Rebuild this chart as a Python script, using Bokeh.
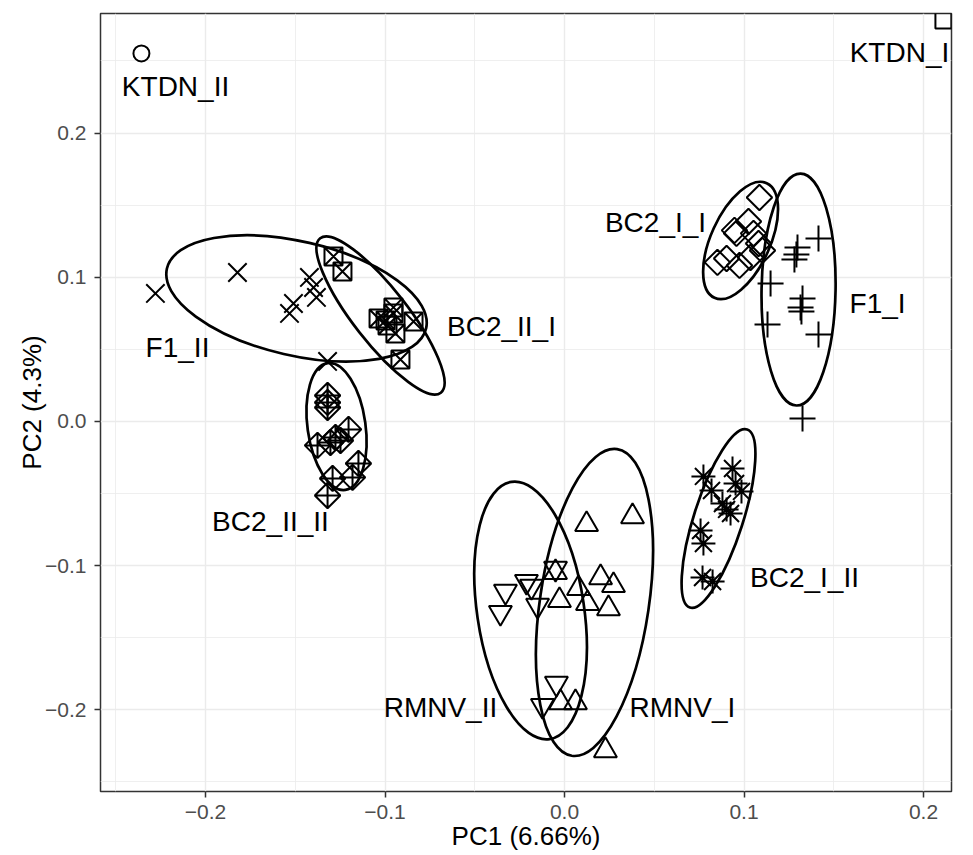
from bokeh.plotting import figure
from bokeh.models import Range1d, FixedTicker, CustomJSTickFormatter
from bokeh.core.properties import value
from bokeh.embed import file_html
from bokeh.resources import INLINE

# ---------------- data ----------------
x_ticks = [-0.2, -0.1, 0.0, 0.1, 0.2]
y_ticks = [-0.2, -0.1, 0.0, 0.1, 0.2]
x_minor = [-0.25, -0.15, -0.05, 0.05, 0.15, 0.25]
y_minor = [-0.25, -0.15, -0.05, 0.05, 0.15, 0.25]

KTDN_II_x = [-0.2357]
KTDN_II_y = [0.2552]
KTDN_I_x = [0.2111]
KTDN_I_y = [0.2781]

F1_II_x = [-0.2279, -0.1822, -0.1421, -0.1398, -0.1382, -0.1510, -0.1532, -0.1320]
F1_II_y = [0.0888, 0.1033, 0.0999, 0.0929, 0.0860, 0.0818, 0.0749, 0.0416]

BC2_II_I_x = [-0.1287, -0.1237, -0.1036, -0.0953, -0.0953, -0.0841, -0.0986, -0.0942, -0.0914, -0.0997]
BC2_II_I_y = [0.1144, 0.1040, 0.0714, 0.0791, 0.0749, 0.0693, 0.0666, 0.0610, 0.0430, 0.0700]

BC2_II_II_x = [-0.1320, -0.1320, -0.1320, -0.1203, -0.1276, -0.1304, -0.1376, -0.1248, -0.1148, -0.1181, -0.1292, -0.1320]
BC2_II_II_y = [0.0180, 0.0132, 0.0097, -0.0055, -0.0111, -0.0146, -0.0166, -0.0132, -0.0291, -0.0388, -0.0395, -0.0513]

BC2_I_I_x = [0.1086, 0.0947, 0.0958, 0.1025, 0.1053, 0.1081, 0.0852, 0.0903, 0.0975, 0.1036, 0.1103]
BC2_I_I_y = [0.1553, 0.1325, 0.1304, 0.1387, 0.1304, 0.1234, 0.1103, 0.1130, 0.1082, 0.1137, 0.1186]

F1_I_x = [0.1415, 0.1298, 0.1292, 0.1281, 0.1148, 0.1326, 0.1315, 0.1320, 0.1131, 0.1415, 0.1326]
F1_I_y = [0.1269, 0.1207, 0.1158, 0.1123, 0.0957, 0.0853, 0.0791, 0.0763, 0.0673, 0.0603, 0.0021]

BC2_I_II_x = [0.0774, 0.0936, 0.0953, 0.0986, 0.0819, 0.0880, 0.0903, 0.0925, 0.0758, 0.0774, 0.0769, 0.0825]
BC2_I_II_y = [-0.0381, -0.0326, -0.0430, -0.0485, -0.0479, -0.0569, -0.0610, -0.0638, -0.0756, -0.0846, -0.1082, -0.1110]

RMNV_I_x = [0.0123, 0.0379, 0.0201, 0.0273, 0.0078, -0.0028, 0.0128, 0.0245, -0.0050, 0.0061, -0.0022, 0.0228]
RMNV_I_y = [-0.0714, -0.0659, -0.1082, -0.1137, -0.1158, -0.1241, -0.1262, -0.1297, -0.1047, -0.1949, -0.1949, -0.2282]

RMNV_II_x = [-0.0329, -0.0357, -0.0212, -0.0184, -0.0150, -0.0050, -0.0045, -0.0123]
RMNV_II_y = [-0.1179, -0.1325, -0.1110, -0.1144, -0.1276, -0.1019, -0.1817, -0.1970]

# confidence ellipses: F1_II, BC2_II_I, BC2_II_II, BC2_I_I, F1_I, BC2_I_II, RMNV_II, RMNV_I
ell_cx = [-0.1493, -0.1025, -0.1270, 0.0981, 0.1304, 0.0858, -0.0189, 0.0167]
ell_cy = [0.0853, 0.0735, -0.0035, 0.1255, 0.0915, -0.0673, -0.1311, -0.1255]
ell_major = [266, 196, 128, 126, 232, 187, 260, 310]
ell_minor = [114, 54, 58, 59, 74, 49, 107, 109]
ell_angle = [-13, -52, -82, 65.5, 89, 72.2, -81.6, 81.6]

label_text = ["KTDN_II", "KTDN_I", "F1_II", "BC2_II_I", "BC2_II_II", "BC2_I_I",
              "F1_I", "BC2_I_II", "RMNV_II", "RMNV_I"]
label_x = [-0.2167, 0.1866, -0.2156, -0.0351, -0.1638, 0.0507, 0.1744, 0.1337, -0.0691, 0.0657]
label_y = [0.2323, 0.2559, 0.0513, 0.0659, -0.0693, 0.1380, 0.0818, -0.1082, -0.1983, -0.1983]

# ---------------- figure ----------------
FONT = "Liberation Sans"
p = figure(width=973, height=855, output_backend="svg", toolbar_location=None,
           x_range=Range1d(-0.2585, 0.2156), y_range=Range1d(-0.2566, 0.2829),
           min_border_left=100, min_border_right=22, min_border_top=13, min_border_bottom=64)
p.background_fill_color = "white"
p.border_fill_color = "white"
p.outline_line_color = "#333333"
p.outline_line_width = 1.5

p.xaxis.ticker = FixedTicker(ticks=x_ticks, minor_ticks=x_minor)
p.yaxis.ticker = FixedTicker(ticks=y_ticks, minor_ticks=y_minor)
fmt = CustomJSTickFormatter(code="return tick.toFixed(1).replace('-', '\\u2212');")
for ax in (p.xaxis, p.yaxis):
    ax.formatter = fmt
    ax.axis_line_color = None
    ax.major_tick_line_color = "#333333"
    ax.major_tick_line_width = 1.5
    ax.major_tick_out = 6
    ax.major_tick_in = 0
    ax.minor_tick_out = 0
    ax.minor_tick_in = 0
    ax.major_label_text_font = FONT
    ax.major_label_text_font_size = "21px"
    ax.major_label_text_color = "#4D4D4D"
    ax.axis_label_text_font = FONT
    ax.axis_label_text_font_size = "26px"
    ax.axis_label_text_font_style = "normal"
    ax.axis_label_text_color = "black"
p.xaxis.axis_label = "PC1 (6.66%)"
p.yaxis.axis_label = "PC2 (4.3%)"
p.xaxis.major_label_standoff = 7
p.yaxis.major_label_standoff = 8
p.xaxis.axis_label_standoff = -1
p.yaxis.axis_label_standoff = -5

for g in (p.xgrid, p.ygrid):
    g.grid_line_color = "#EBEBEB"
    g.grid_line_width = 1.4
    g.minor_grid_line_color = "#EBEBEB"
    g.minor_grid_line_width = 0.8

# ellipses
p.ellipse(x=ell_cx, y=ell_cy, width=ell_major, height=ell_minor, angle=ell_angle,
          angle_units="deg", width_units="screen", height_units="screen",
          fill_color=None, line_color="black", line_width=2.7)

LW = 2.0
common = dict(line_color="black", fill_color=None, line_width=LW)
p.scatter(KTDN_II_x, KTDN_II_y, marker="circle", size=16, **common)
p.scatter(KTDN_I_x, KTDN_I_y, marker="square", size=16, **common)
p.scatter(F1_II_x, F1_II_y, marker="x", size=26, **common)
p.scatter(F1_I_x, F1_I_y, marker="cross", size=26, **common)
p.scatter(BC2_II_I_x, BC2_II_I_y, marker="square_x", size=18, **common)
p.scatter(BC2_II_II_x, BC2_II_II_y, marker="square_x", size=18, angle=45, angle_units="deg", **common)
p.scatter(BC2_I_I_x, BC2_I_I_y, marker="square", size=18, angle=45, angle_units="deg", **common)
p.scatter(BC2_I_II_x, BC2_I_II_y, marker="asterisk", size=24, **common)
p.scatter(RMNV_I_x, RMNV_I_y, marker="triangle", size=23, **common)
p.scatter(RMNV_II_x, RMNV_II_y, marker="inverted_triangle", size=23, **common)

p.text(x=label_x, y=label_y, text=label_text, text_align="center", text_baseline="middle",
       text_font=value(FONT), text_font_size="28px", text_color="black")

open("out.html", "w").write(file_html(p, INLINE))
